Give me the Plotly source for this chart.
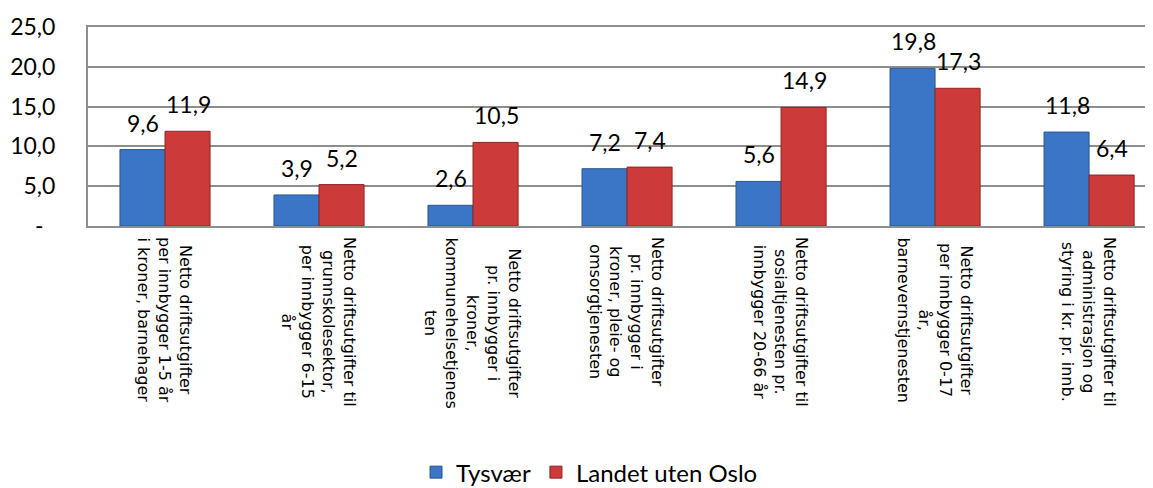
import plotly.graph_objects as go

# Category labels (multi-line, as in the original chart)
categories = [
    "Netto driftsutgifter<br>per innbygger 1-5 år<br>i kroner, barnehager",
    "Netto driftsutgifter til<br>grunnskolesektor,<br>per innbygger 6-15<br>år",
    "Netto driftsutgifter<br>pr. innbygger i<br>kroner,<br>kommunehelsetjenes<br>ten",
    "Netto driftsutgifter<br>pr. innbygger i<br>kroner, pleie- og<br>omsorgtjenesten",
    "Netto driftsutgifter til<br>sosialtjenesten pr.<br>innbygger 20-66 år",
    "Netto driftsutgifter<br>per innbygger 0-17<br>år,<br>barnevernstjenesten",
    "Netto driftsutgifter til<br>administrasjon og<br>styring i kr. pr. innb.",
]
cat_keys = ["c1", "c2", "c3", "c4", "c5", "c6", "c7"]

tysvaer = [9.6, 3.9, 2.6, 7.2, 5.6, 19.8, 11.8]
landet = [11.9, 5.2, 10.5, 7.4, 14.9, 17.3, 6.4]

y_tickvals = [0, 5, 10, 15, 20, 25]
y_ticktext = ["-\u00a0\u00a0", "5,0", "10,0", "15,0", "20,0", "25,0"]

blue = "#3B76C6"
red = "#CC3A3A"
grid = "#8E8E8E"
label_font = dict(family="Lato", size=23, color="black")

fig = go.Figure()

fig.add_trace(go.Bar(
    x=cat_keys, y=tysvaer, name="Tysvær",
    marker=dict(color=blue, line=dict(color="#2A5690", width=1)),
))
fig.add_trace(go.Bar(
    x=cat_keys, y=landet, name="Landet uten Oslo",
    marker=dict(color=red, line=dict(color="#8E2424", width=1)),
))

# value labels above bars
for key, a, b in zip(cat_keys, tysvaer, landet):
    for val, shift in ((a, -22), (b, 23)):
        fig.add_annotation(
            x=key, y=val, xref="x", yref="y",
            text=f"{val:.1f}".replace(".", ","),
            showarrow=False, xshift=shift, yshift=27,
            yanchor="middle", font=label_font,
        )

# rotated category labels below the axis
for key, text in zip(cat_keys, categories):
    fig.add_annotation(
        x=key, y=0, xref="x", yref="y",
        text=text, textangle=90, align="center",
        showarrow=False, yanchor="top", yshift=-9,
        font=dict(family="DejaVu Sans", size=16, color="black"),
    )

# page body has an 8px margin, so the figure is offset to fit the window
fig.update_layout(
    width=1145, height=488,
    margin=dict(l=80, r=0, t=19, b=270, autoexpand=False),
    paper_bgcolor="white", plot_bgcolor="white",
    barmode="group", bargap=0.415, bargroupgap=0,
    showlegend=True,
    legend=dict(
        orientation="h", x=0.308, y=-1.352, xanchor="left", yanchor="bottom",
        font=dict(family="Lato", size=24, color="black"), itemwidth=30,
    ),
    xaxis=dict(
        type="category", range=[-0.5, 6.415],
        showticklabels=False, showgrid=False,
        showline=True, linecolor=grid, linewidth=2, mirror=True,
        ticks="", automargin=False,
    ),
    yaxis=dict(
        range=[0, 25], tickvals=y_tickvals, ticktext=y_ticktext,
        showgrid=True, gridcolor=grid, gridwidth=2,
        showline=True, linecolor=grid, linewidth=2,
        tickfont=label_font, ticks="", ticklabelstandoff=26,
        zeroline=False, automargin=False,
    ),
)

fig.write_html("out.html")
